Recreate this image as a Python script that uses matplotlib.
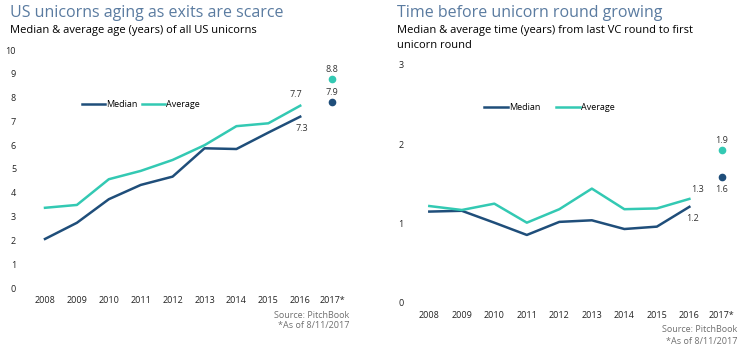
import numpy as np
import matplotlib.pyplot as plt

years = ["2008", "2009", "2010", "2011", "2012", "2013", "2014", "2015", "2016", "2017*"]

# left chart: age of US unicorns (years)
age_median = [2.06, 2.74, 3.73, 4.33, 4.68, 5.87, 5.84, 6.53, 7.2]
age_average = [3.37, 3.49, 4.57, 4.92, 5.38, 6.0, 6.8, 6.92, 7.66]
age_2017 = {"Median": 7.83, "Average": 8.78}
age_labels = {"Median": ("7.3", "7.9"), "Average": ("7.7", "8.8")}

# right chart: time from last VC round to unicorn round (years)
time_median = [1.15, 1.16, 1.01, 0.855, 1.02, 1.04, 0.93, 0.96, 1.21]
time_average = [1.22, 1.17, 1.25, 1.01, 1.18, 1.44, 1.18, 1.19, 1.31]
time_2017 = {"Median": 1.59, "Average": 1.93}
time_labels = {"Median": ("1.2", "1.6"), "Average": ("1.3", "1.9")}

NAVY = "#1f4e7a"
TEAL = "#33c9b3"
TITLE = "#5a7ba0"
GREY = "#6f6f6f"
FONT = "Open Sans"

plt.rcParams["font.family"] = FONT

W, H = 744, 351
fig = plt.figure(figsize=(W / 100, H / 100), dpi=100)


def px_axes(left, right, top, bottom):
    return fig.add_axes([left / W, 1 - bottom / H, (right - left) / W, (bottom - top) / H])


def style(ax, ymax, ystep):
    for s in ax.spines.values():
        s.set_visible(False)
    ax.set_ylim(0, ymax)
    ax.set_yticks(np.arange(0, ymax + 0.01, ystep))
    ax.set_xticks(range(len(years)))
    ax.set_xticklabels(years)
    ax.tick_params(length=0, labelsize=6.5, colors="#222222")
    ax.tick_params(axis="x", pad=6)
    ax.tick_params(axis="y", pad=10)


# ---- left chart
ax1 = px_axes(30, 350, 50, 288)
x = np.arange(len(age_median))
ax1.plot(x, age_median, color=NAVY, lw=1.8, label="Median")
ax1.plot(x, age_average, color=TEAL, lw=1.8, label="Average")
ax1.plot(9, age_2017["Median"], "o", color=NAVY, ms=4.5)
ax1.plot(9, age_2017["Average"], "o", color=TEAL, ms=4.5)
ax1.set_xlim(-0.47, 9.56)
style(ax1, 10, 1)
ax1.annotate(age_labels["Average"][0], (8, age_average[-1]), xytext=(-3, 6),
             textcoords="offset points", ha="center", fontsize=6.5, color="#333333")
ax1.annotate(age_labels["Median"][0], (8, age_median[-1]), xytext=(1, -10),
             textcoords="offset points", ha="center", fontsize=6.5, color="#333333")
ax1.annotate(age_labels["Average"][1], (9, age_2017["Average"]), xytext=(0, 5),
             textcoords="offset points", ha="center", fontsize=6.5, color="#333333")
ax1.annotate(age_labels["Median"][1], (9, age_2017["Median"]), xytext=(0, 5),
             textcoords="offset points", ha="center", fontsize=6.5, color="#333333")
ax1.legend(loc="center left", bbox_to_anchor=(0.15, 0.769), ncol=2, frameon=False,
           fontsize=6.5, handlelength=2.6, handletextpad=0.1, columnspacing=0.5,
           borderaxespad=0)

fig.text(10 / W, 1 - 13 / H, "US unicorns aging as exits are scarce", fontsize=11.5,
         color=TITLE, va="center", ha="left")
fig.text(10 / W, 1 - 30 / H, "Median & average age (years) of all US unicorns",
         fontsize=8, color="black", va="center", ha="left")
fig.text(349 / W, 1 - 315 / H, "Source: PitchBook", fontsize=6.5, color=GREY,
         ha="right", va="center")
fig.text(349 / W, 1 - 326 / H, "*As of 8/11/2017", fontsize=6.5, color=GREY,
         ha="right", va="center")

# ---- right chart
ax2 = px_axes(415, 744, 65, 302.7)
x = np.arange(len(time_median))
ax2.plot(x, time_median, color=NAVY, lw=1.8, label="Median")
ax2.plot(x, time_average, color=TEAL, lw=1.8, label="Average")
ax2.plot(9, time_2017["Median"], "o", color=NAVY, ms=4.5)
ax2.plot(9, time_2017["Average"], "o", color=TEAL, ms=4.5)
ax2.set_xlim(-0.44, 9.68)
style(ax2, 3, 1)
ax2.tick_params(axis="y", pad=8)
ax2.annotate(time_labels["Average"][0], (8, time_average[-1]), xytext=(6, 5),
             textcoords="offset points", ha="center", fontsize=6.5, color="#333333")
ax2.annotate(time_labels["Median"][0], (8, time_median[-1]), xytext=(2, -10),
             textcoords="offset points", ha="center", fontsize=6.5, color="#333333")
ax2.annotate(time_labels["Average"][1], (9, time_2017["Average"]), xytext=(0, 5),
             textcoords="offset points", ha="center", fontsize=6.5, color="#333333")
ax2.annotate(time_labels["Median"][1], (9, time_2017["Median"]), xytext=(0, -11),
             textcoords="offset points", ha="center", fontsize=6.5, color="#333333")
ax2.legend(loc="center left", bbox_to_anchor=(0.2, 0.82), ncol=2, frameon=False,
           fontsize=6.5, handlelength=2.6, handletextpad=0.1, columnspacing=1.8,
           borderaxespad=0)

fig.text(397 / W, 1 - 13 / H, "Time before unicorn round growing", fontsize=11.5,
         color=TITLE, va="center", ha="left")
fig.text(397 / W, 1 - 38 / H,
         "Median & average time (years) from last VC round to first\nunicorn round",
         fontsize=8, color="black", va="center", ha="left", linespacing=1.5)
fig.text(737 / W, 1 - 329 / H, "Source: PitchBook", fontsize=6.5, color=GREY,
         ha="right", va="center")
fig.text(737 / W, 1 - 341 / H, "*As of 8/11/2017", fontsize=6.5, color=GREY,
         ha="right", va="center")

fig.savefig("out.png", dpi=100)
